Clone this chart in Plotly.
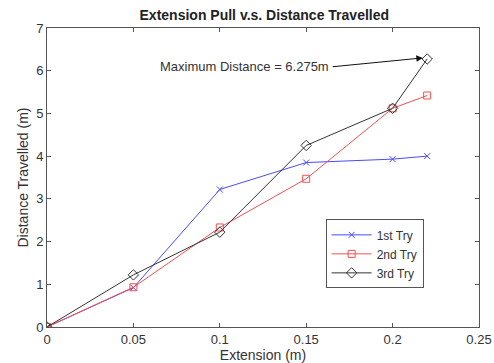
import plotly.graph_objects as go

extension = [0, 0.05, 0.1, 0.15, 0.2, 0.22]
try1 = [0, 0.92, 3.22, 3.85, 3.93, 4.0]
try2 = [0, 0.93, 2.33, 3.47, 5.12, 5.42]
try3 = [0, 1.22, 2.22, 4.25, 5.12, 6.275]
x_ticks = [0, 0.05, 0.1, 0.15, 0.2, 0.25]
x_tick_labels = ["0", "0.05", "0.1", "0.15", "0.2", "0.25"]
y_ticks = [0, 1, 2, 3, 4, 5, 6, 7]

FONT = "Liberation Sans"

fig = go.Figure()
fig.add_trace(go.Scatter(x=extension, y=try1, name="1st Try", mode="lines+markers",
                         line=dict(color="#4a4aff", width=1),
                         marker=dict(symbol="x-thin", size=6, line=dict(color="#4a4aff", width=1))))
fig.add_trace(go.Scatter(x=extension, y=try2, name="2nd Try", mode="lines+markers",
                         line=dict(color="#f05050", width=1),
                         marker=dict(symbol="square-open", size=7, color="#f05050")))
fig.add_trace(go.Scatter(x=extension, y=try3, name="3rd Try", mode="lines+markers",
                         line=dict(color="#333333", width=1),
                         marker=dict(symbol="diamond-open", size=8, color="#333333")))

# arrow
fig.add_annotation(x=0.2175, y=6.3, ax=0.1645, ay=6.09, axref="x", ayref="y", xref="x", yref="y",
                   text="", showarrow=True, arrowhead=2, arrowsize=1.3, arrowwidth=1, arrowcolor="#111111")
fig.add_annotation(x=0.1645, y=6.1, xref="x", yref="y", text="Maximum Distance = 6.275m",
                   showarrow=False, xanchor="right", yanchor="middle",
                   font=dict(family=FONT, size=13, color="#333333"))

axis_common = dict(showline=True, linecolor="#555555", linewidth=1, mirror="ticks",
                   ticks="inside", ticklen=4, tickcolor="#555555", showgrid=False, zeroline=False,
                   automargin=False,
                   tickfont=dict(family=FONT, size=13, color="#333333"))
fig.update_xaxes(range=[0, 0.25], tickvals=x_ticks, ticktext=x_tick_labels,
                 title=dict(text="Extension (m)", standoff=0,
                            font=dict(family=FONT, size=14, color="#333333")),
                 **axis_common)
fig.update_yaxes(range=[0, 7], tickvals=y_ticks,
                 title=dict(text="Distance Travelled (m)", standoff=4,
                            font=dict(family=FONT, size=14, color="#333333")),
                 **axis_common)

fig.update_layout(
    width=494, height=363,
    margin=dict(l=47, r=15, t=28, b=36),
    paper_bgcolor="white", plot_bgcolor="white",
    title=dict(text="<b>Extension Pull v.s. Distance Travelled</b>", x=0.535, xanchor="center",
               y=0.958, yanchor="middle",
               font=dict(family=FONT, size=14, color="#222222")),
    legend=dict(x=0.645, y=0.36, xanchor="left", yanchor="top",
                bordercolor="#555555", borderwidth=1, bgcolor="white",
                font=dict(family=FONT, size=12, color="#333333"),
                tracegroupgap=0, itemwidth=40),
    showlegend=True,
)

fig.write_html("out.html")
